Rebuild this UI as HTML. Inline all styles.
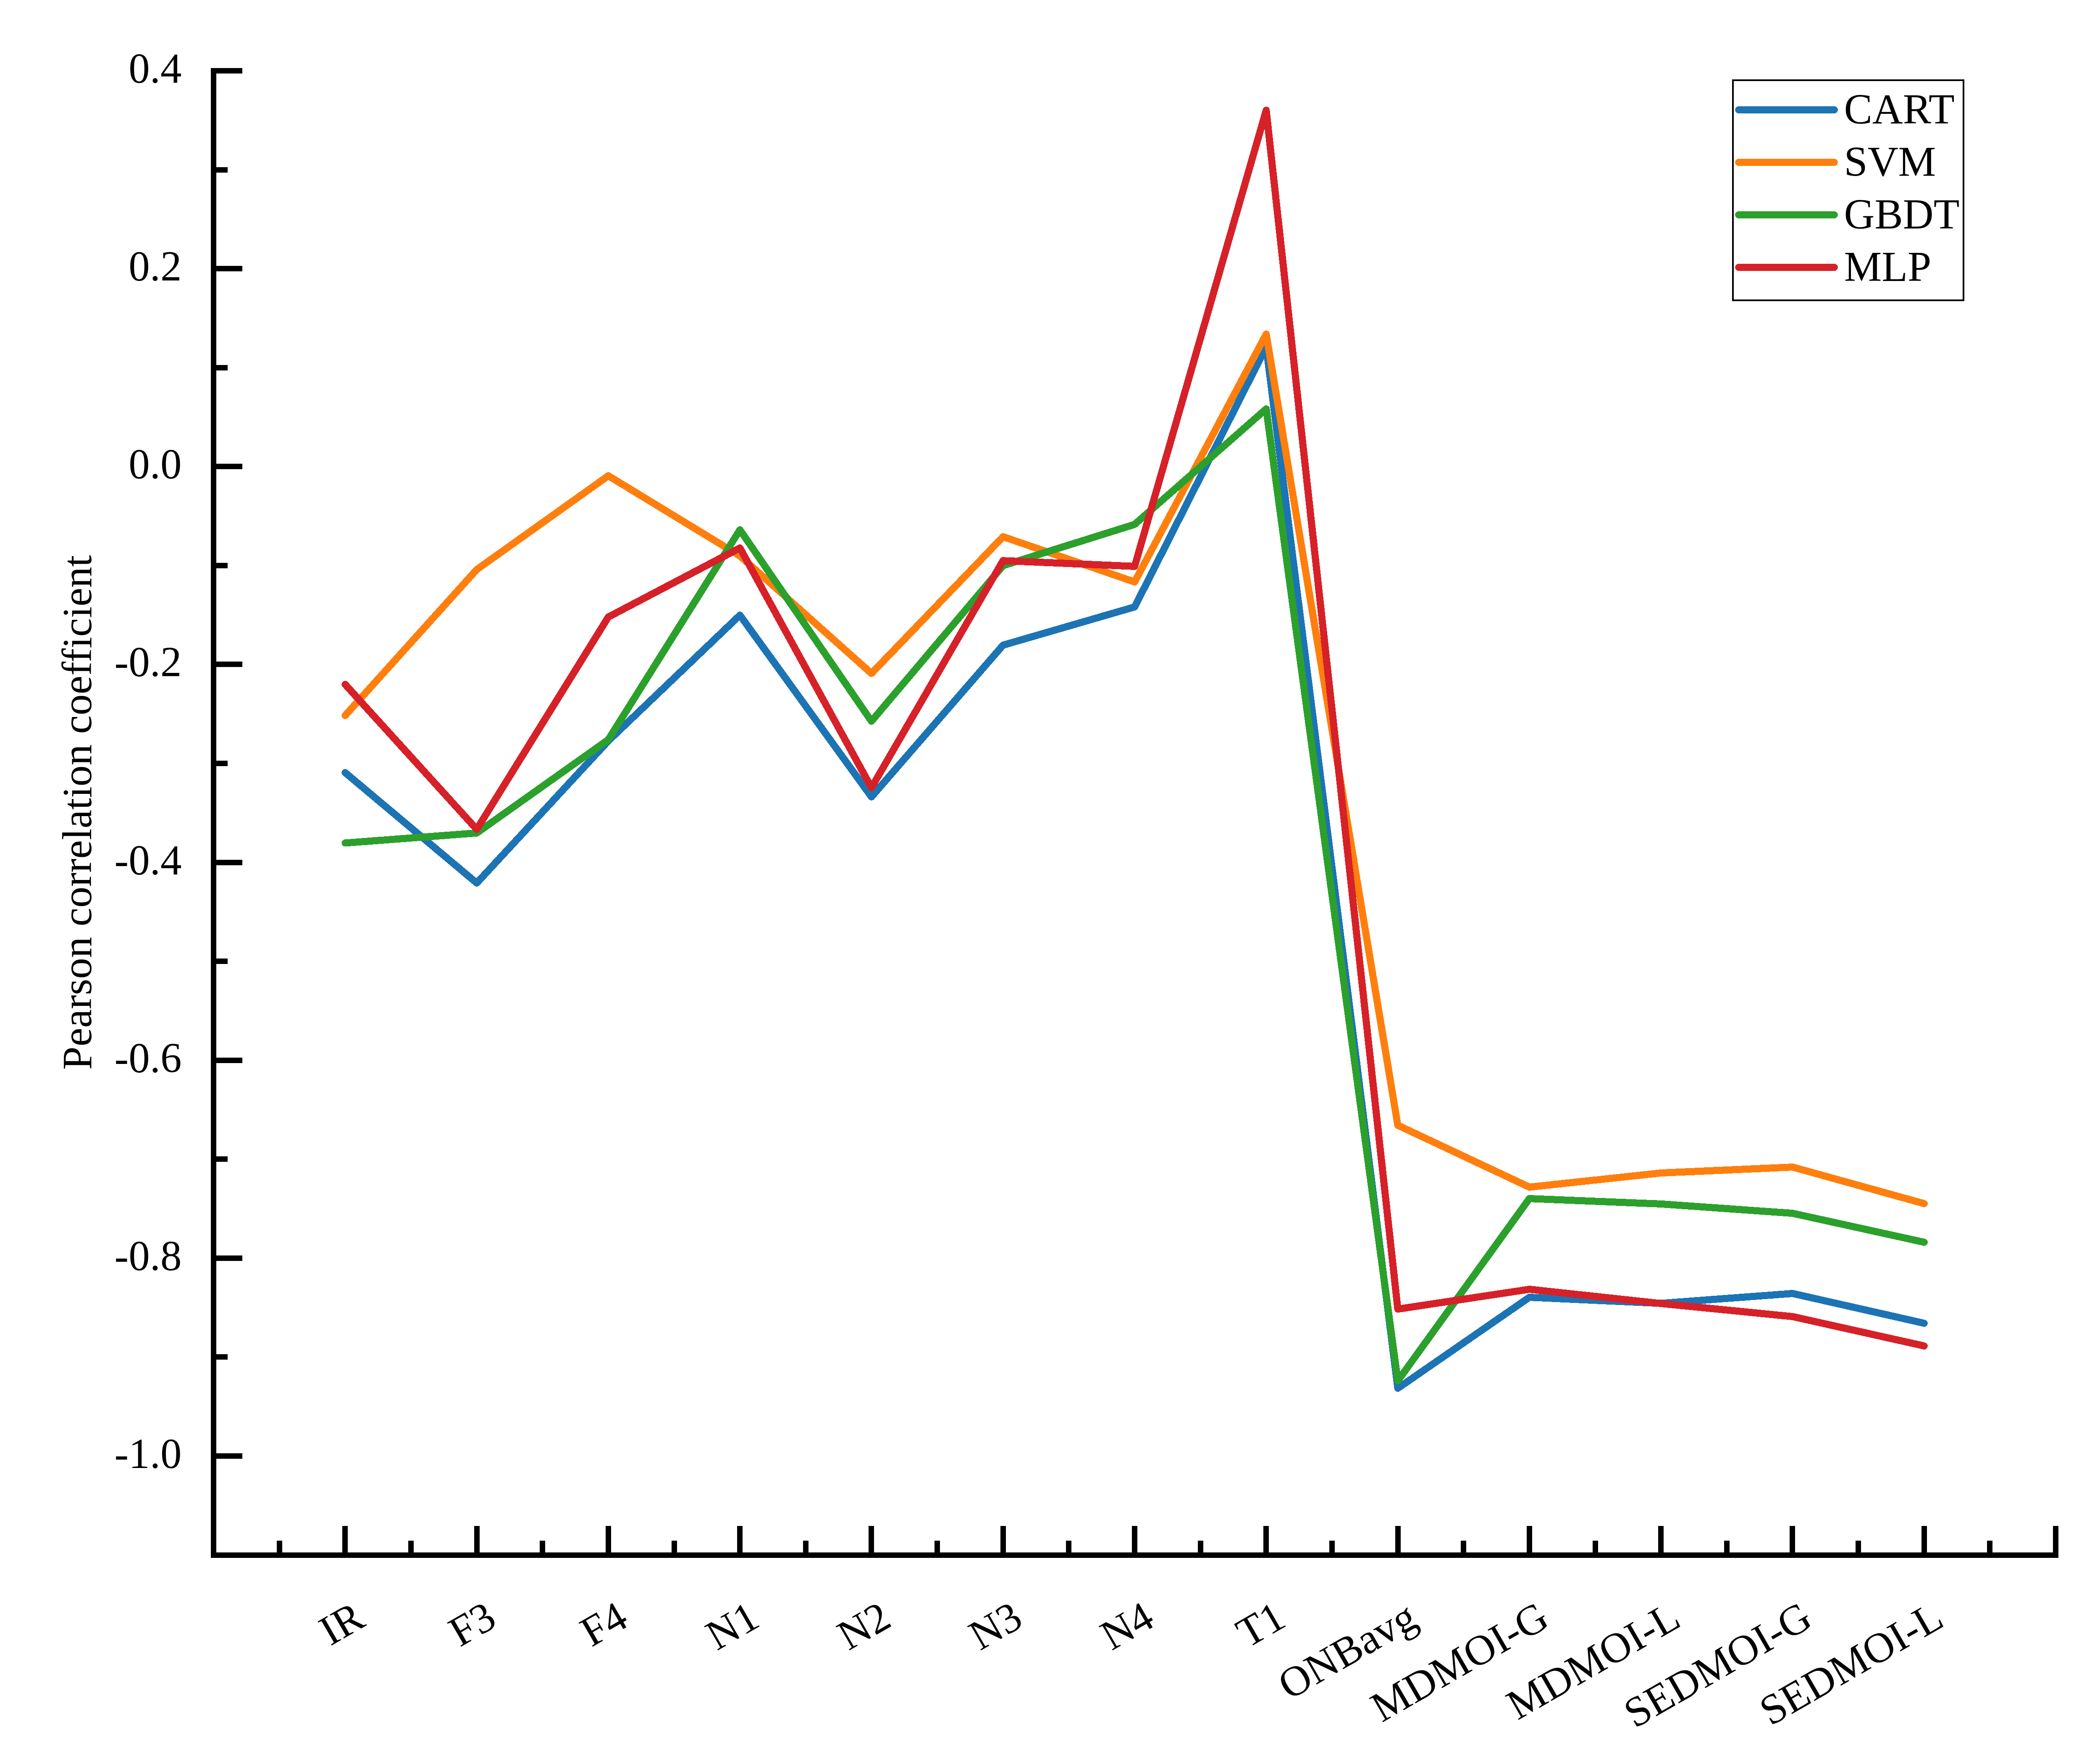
<!DOCTYPE html><html><head><meta charset="utf-8"><style>html,body{margin:0;padding:0;background:#fff;}svg{display:block}text{font-family:"Liberation Serif",serif;fill:#000}</style></head><body>
<svg width="5145" height="4164" viewBox="0 0 5145 4164" shape-rendering="crispEdges">
<rect x="0" y="0" width="5145" height="4164" fill="#fff"/>
<g fill="#000">
<rect x="502" y="162" width="13" height="3547"/>
<rect x="502" y="3696" width="4399" height="13"/>
<rect x="502" y="162" width="75" height="13"/>
<rect x="502" y="633" width="75" height="13"/>
<rect x="502" y="1104" width="75" height="13"/>
<rect x="502" y="1575" width="75" height="13"/>
<rect x="502" y="2047" width="75" height="13"/>
<rect x="502" y="2518" width="75" height="13"/>
<rect x="502" y="2989" width="75" height="13"/>
<rect x="502" y="3460" width="75" height="13"/>
<rect x="502" y="398" width="40" height="13"/>
<rect x="502" y="869" width="40" height="13"/>
<rect x="502" y="1340" width="40" height="13"/>
<rect x="502" y="1811" width="40" height="13"/>
<rect x="502" y="2282" width="40" height="13"/>
<rect x="502" y="2753" width="40" height="13"/>
<rect x="502" y="3224" width="40" height="13"/>
<rect x="815" y="3633" width="13" height="76"/>
<rect x="1129" y="3633" width="13" height="76"/>
<rect x="1442" y="3633" width="13" height="76"/>
<rect x="1755" y="3633" width="13" height="76"/>
<rect x="2068" y="3633" width="13" height="76"/>
<rect x="2382" y="3633" width="13" height="76"/>
<rect x="2695" y="3633" width="13" height="76"/>
<rect x="3008" y="3633" width="13" height="76"/>
<rect x="3322" y="3633" width="13" height="76"/>
<rect x="3635" y="3633" width="13" height="76"/>
<rect x="3948" y="3633" width="13" height="76"/>
<rect x="4261" y="3633" width="13" height="76"/>
<rect x="4575" y="3633" width="13" height="76"/>
<rect x="4888" y="3633" width="13" height="76"/>
<rect x="659" y="3668" width="13" height="41"/>
<rect x="972" y="3668" width="13" height="41"/>
<rect x="1285" y="3668" width="13" height="41"/>
<rect x="1599" y="3668" width="13" height="41"/>
<rect x="1912" y="3668" width="13" height="41"/>
<rect x="2225" y="3668" width="13" height="41"/>
<rect x="2538" y="3668" width="13" height="41"/>
<rect x="2852" y="3668" width="13" height="41"/>
<rect x="3165" y="3668" width="13" height="41"/>
<rect x="3478" y="3668" width="13" height="41"/>
<rect x="3792" y="3668" width="13" height="41"/>
<rect x="4105" y="3668" width="13" height="41"/>
<rect x="4418" y="3668" width="13" height="41"/>
<rect x="4731" y="3668" width="13" height="41"/>
</g>
<text x="432.5" y="196.5" font-size="101" text-anchor="end">0.4</text>
<text x="432.5" y="667.5" font-size="101" text-anchor="end">0.2</text>
<text x="432.5" y="1138.5" font-size="101" text-anchor="end">0.0</text>
<text x="432.5" y="1609.5" font-size="101" text-anchor="end">-0.2</text>
<text x="432.5" y="2081.5" font-size="101" text-anchor="end">-0.4</text>
<text x="432.5" y="2552.5" font-size="101" text-anchor="end">-0.6</text>
<text x="432.5" y="3023.5" font-size="101" text-anchor="end">-0.8</text>
<text x="432.5" y="3494.5" font-size="101" text-anchor="end">-1.0</text>
<text transform="translate(216.5,1934.3) rotate(-90)" font-size="100" text-anchor="middle">Pearson correlation coefficient</text>
<text transform="translate(873.8,3869) rotate(-30)" font-size="101" text-anchor="end">IR</text>
<text transform="translate(1187.1,3869) rotate(-30)" font-size="101" text-anchor="end">F3</text>
<text transform="translate(1500.4,3869) rotate(-30)" font-size="101" text-anchor="end">F4</text>
<text transform="translate(1813.7,3869) rotate(-30)" font-size="101" text-anchor="end">N1</text>
<text transform="translate(2126.9,3869) rotate(-30)" font-size="101" text-anchor="end">N2</text>
<text transform="translate(2440.2,3869) rotate(-30)" font-size="101" text-anchor="end">N3</text>
<text transform="translate(2753.5,3869) rotate(-30)" font-size="101" text-anchor="end">N4</text>
<text transform="translate(3066.8,3869) rotate(-30)" font-size="101" text-anchor="end">T1</text>
<text transform="translate(3380.1,3869) rotate(-30)" font-size="101" text-anchor="end">ONBavg</text>
<text transform="translate(3693.4,3869) rotate(-30)" font-size="101" text-anchor="end">MDMOI-G</text>
<text transform="translate(4006.7,3869) rotate(-30)" font-size="101" text-anchor="end">MDMOI-L</text>
<text transform="translate(4320.0,3869) rotate(-30)" font-size="101" text-anchor="end">SEDMOI-G</text>
<text transform="translate(4633.3,3869) rotate(-30)" font-size="101" text-anchor="end">SEDMOI-L</text>
<g fill="none" stroke-width="17" stroke-linecap="round" stroke-linejoin="round">
<polyline stroke="#1c74b4" points="821.8,1839.4 1135.1,2102.3 1448.4,1764.0 1761.7,1464.6 2074.9,1897.2 2388.2,1536.0 2701.5,1445.0 3014.8,826.0 3328.1,3305.2 3641.4,3088.6 3954.7,3103.0 4268.0,3079.5 4581.3,3150.4"/>
<polyline stroke="#ff7f0e" points="821.8,1703.5 1135.1,1356.0 1448.4,1132.7 1761.7,1323.5 2074.9,1603.3 2388.2,1277.8 2701.5,1385.5 3014.8,795.5 3328.1,2679.0 3641.4,2826.3 3954.7,2792.6 4268.0,2778.6 4581.3,2865.5"/>
<polyline stroke="#2ca02c" points="821.8,2007.0 1135.1,1983.2 1448.4,1761.0 1761.7,1261.4 2074.9,1717.1 2388.2,1346.7 2701.5,1248.5 3014.8,973.5 3328.1,3287.5 3641.4,2853.6 3954.7,2866.4 4268.0,2888.6 4581.3,2957.5"/>
<polyline stroke="#d62129" points="821.8,1629.4 1135.1,1974.5 1448.4,1469.0 1761.7,1304.6 2074.9,1875.3 2388.2,1334.8 2701.5,1348.4 3014.8,262.5 3328.1,3116.7 3641.4,3069.5 3954.7,3103.4 4268.0,3134.5 4581.3,3204.4"/>
</g>
<rect x="4126" y="191" width="549" height="524" fill="none" stroke="#000" stroke-width="4"/>
<line x1="4139.7" y1="261.5" x2="4367.4" y2="261.5" stroke="#1c74b4" stroke-width="17" stroke-linecap="round"/>
<text x="4390.5" y="293.5" font-size="101">CART</text>
<line x1="4139.7" y1="386.5" x2="4367.4" y2="386.5" stroke="#ff7f0e" stroke-width="17" stroke-linecap="round"/>
<text x="4390.5" y="418.5" font-size="101">SVM</text>
<line x1="4139.7" y1="511.5" x2="4367.4" y2="511.5" stroke="#2ca02c" stroke-width="17" stroke-linecap="round"/>
<text x="4390.5" y="543.5" font-size="101">GBDT</text>
<line x1="4139.7" y1="636.5" x2="4367.4" y2="636.5" stroke="#d62129" stroke-width="17" stroke-linecap="round"/>
<text x="4390.5" y="668.5" font-size="101">MLP</text>
</svg></body></html>
